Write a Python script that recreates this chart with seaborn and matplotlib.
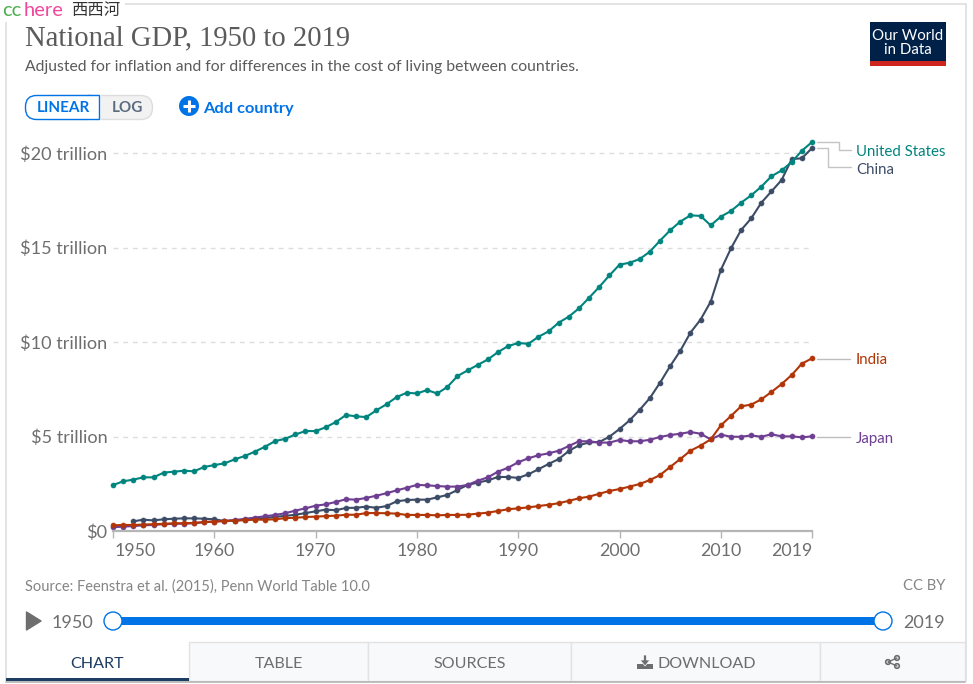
import numpy as np
import pandas as pd
import matplotlib
matplotlib.use('Agg')
import matplotlib.pyplot as plt
import matplotlib.transforms as mtrans
import seaborn as sns
from matplotlib.patches import Rectangle, FancyBboxPatch, Circle, Polygon

nan = np.nan
years = list(range(1950, 2020))

# GDP in trillions
united_states = [2.43, 2.63, 2.72, 2.84, 2.84, 3.09, 3.14, 3.19, 3.16, 3.39,
                 3.49, 3.58, 3.79, 3.97, 4.20, 4.46, 4.76, 4.88, 5.11, 5.29,
                 5.29, 5.49, 5.77, 6.14, 6.07, 6.03, 6.39, 6.71, 7.09, 7.32,
                 7.28, 7.46, 7.28, 7.62, 8.20, 8.50, 8.79, 9.08, 9.47, 9.79,
                 9.95, 9.91, 10.28, 10.57, 11.03, 11.35, 11.79, 12.35, 12.92, 13.53,
                 14.10, 14.20, 14.40, 14.79, 15.37, 15.92, 16.38, 16.71, 16.68, 16.18,
                 16.64, 16.94, 17.38, 17.77, 18.23, 18.78, 19.09, 19.53, 20.13, 20.59]
china = [nan, nan, 0.51, 0.60, 0.56, 0.62, 0.65, 0.67, 0.67, 0.65,
         0.62, 0.53, 0.55, 0.60, 0.65, 0.68, 0.75, 0.80, 0.86, 0.95,
         1.04, 1.13, 1.10, 1.22, 1.23, 1.29, 1.23, 1.32, 1.57, 1.64,
         1.66, 1.66, 1.78, 1.91, 2.17, 2.44, 2.56, 2.68, 2.86, 2.86,
         2.81, 3.00, 3.27, 3.55, 3.81, 4.24, 4.54, 4.69, 4.71, 4.99,
         5.40, 5.86, 6.42, 7.04, 7.85, 8.73, 9.54, 10.50, 11.19, 12.14,
         13.82, 14.96, 15.93, 16.55, 17.38, 17.98, 18.58, 19.69, 19.73, 20.27]
japan = [0.20, 0.23, 0.26, 0.30, 0.32, 0.36, 0.38, 0.39, 0.41, 0.47,
         0.50, 0.53, 0.58, 0.64, 0.71, 0.78, 0.85, 0.94, 1.08, 1.20,
         1.34, 1.41, 1.54, 1.68, 1.66, 1.75, 1.87, 2.00, 2.15, 2.29,
         2.44, 2.42, 2.38, 2.35, 2.35, 2.44, 2.66, 2.84, 3.14, 3.35,
         3.64, 3.85, 4.01, 4.11, 4.25, 4.50, 4.75, 4.75, 4.68, 4.68,
         4.82, 4.75, 4.75, 4.83, 4.98, 5.08, 5.15, 5.24, 5.15, 4.85,
         5.10, 4.99, 4.99, 5.06, 4.99, 5.12, 5.01, 5.01, 4.96, 5.01]
india = [0.30, 0.32, 0.32, 0.34, 0.36, 0.38, 0.41, 0.41, 0.43, 0.47,
         0.50, 0.53, 0.55, 0.57, 0.60, 0.60, 0.62, 0.68, 0.70, 0.74,
         0.76, 0.79, 0.81, 0.86, 0.86, 0.95, 0.95, 0.94, 0.92, 0.85,
         0.85, 0.85, 0.83, 0.85, 0.85, 0.86, 0.92, 0.97, 1.06, 1.15,
         1.20, 1.25, 1.32, 1.39, 1.47, 1.60, 1.73, 1.82, 1.97, 2.12,
         2.22, 2.35, 2.49, 2.70, 2.96, 3.39, 3.81, 4.25, 4.52, 4.85,
         5.59, 6.09, 6.60, 6.69, 6.97, 7.36, 7.78, 8.26, 8.86, 9.14]

countries = ['China', 'United States', 'Japan', 'India']
colors = {'China': '#3d4c66', 'United States': '#00847e', 'Japan': '#6d3e91', 'India': '#b13507'}
x_ticks = [1950, 1960, 1970, 1980, 1990, 2000, 2010, 2019]
y_ticks = [0, 5, 10, 15, 20]
y_labels = ['$0', '$5 trillion', '$10 trillion', '$15 trillion', '$20 trillion']
tabs = ['CHART', 'TABLE', 'SOURCES', 'DOWNLOAD']

df = pd.DataFrame({'Year': years, 'United States': united_states, 'China': china,
                   'Japan': japan, 'India': india})
df = df.melt(id_vars='Year', var_name='Country', value_name='GDP').dropna()

sns.set_theme(style='white')
plt.rcParams['font.family'] = ['Lato', 'Noto Sans CJK SC', 'DejaVu Sans']
plt.rcParams['text.parse_math'] = False

W, H = 973, 684
BLUE = '#0073e6'
GREY = '#6e6e6e'
fig = plt.figure(figsize=(W / 100, H / 100), dpi=100, facecolor='white')

# page furniture is laid out in pixels on a full-size axes
ui = fig.add_axes([0, 0, 1, 1])
ui.set_xlim(0, W)
ui.set_ylim(H, 0)
ui.axis('off')

ui.add_patch(Rectangle((5.5, 3.5), 960, 677.5, fc='white', ec='#dedede', lw=1.2))
ui.plot([6, 965], [681.5, 681.5], color='#b4b4b4', lw=1.2)
ui.add_patch(Rectangle((0, 0), 125, 22, fc='white', ec='none', zorder=3))
ui.text(2, 11, 'cc', color='#4caf50', fontsize=14.5, va='center', zorder=4)
ui.text(24, 11, 'here', color='#f0489c', fontsize=14.5, va='center', zorder=4)
ui.text(71, 11, '西西河', color='#333333', fontsize=11.8, va='center', zorder=4)

ui.text(25, 38.5, 'National GDP, 1950 to 2019', family='Liberation Serif', fontsize=20.6,
        color='#5b5b5b', va='center')
ui.text(25, 66.5, 'Adjusted for inflation and for differences in the cost of living between countries.',
        fontsize=11.3, color='#5b5b5b', va='center')

# logo
ui.add_patch(Rectangle((870, 22), 76, 44, fc='#002147', ec='none'))
ui.add_patch(Rectangle((870, 61), 76, 5, fc='#ce261e', ec='none'))
ui.text(908, 43, 'Our World\nin Data', color='white', fontsize=10.8, ha='center', va='center',
        linespacing=0.95)

# linear / log switch
ui.add_patch(FancyBboxPatch((37, 95.5), 115.5, 24, boxstyle='round,pad=0,rounding_size=12',
                            fc='#f2f2f2', ec='#dddddd', lw=1))
ui.add_patch(Rectangle((25, 95), 75, 25, fc='white', ec='none'))
ui.add_patch(FancyBboxPatch((25.5, 95.5), 74, 24, boxstyle='round,pad=0,rounding_size=11',
                            fc='white', ec=BLUE, lw=1, snap=False))
ui.add_patch(Rectangle((88, 94.5), 13, 26, fc='white', ec='none'))
ui.plot([88, 99.5, 99.5, 88], [95.5, 95.5, 119.5, 119.5], color=BLUE, lw=1, snap=False,
        solid_joinstyle='miter')
ui.text(63, 108.5, 'LINEAR', color=BLUE, fontsize=11, fontweight='bold', ha='center', va='center')
ui.text(127, 108.5, 'LOG', color='#5b6b80', fontsize=11, fontweight='bold', ha='center', va='center')
ui.add_patch(Circle((189, 106), 10, fc=BLUE, ec='none'))
ui.plot([183, 195], [106, 106], color='white', lw=2.2, solid_capstyle='butt')
ui.plot([189, 189], [100, 112], color='white', lw=2.2, solid_capstyle='butt')
ui.text(203, 108.5, 'Add country', color=BLUE, fontsize=11.8, fontweight='bold', va='center')

# footer
ui.text(25, 586.5, 'Source: Feenstra et al. (2015), Penn World Table 10.0', fontsize=10.5,
        color='#858585', va='center')
ui.text(945, 586.5, 'CC BY', fontsize=10.6, color='#858585', ha='right', va='center')

ui.add_patch(Polygon([[26.5, 612], [41, 621], [26.5, 630]], closed=True, fc=GREY, ec=GREY,
                     lw=1, joinstyle='round'))
ui.text(52, 622.5, '1950', fontsize=13, color=GREY, va='center')
ui.text(903, 622.5, '2019', fontsize=13, color=GREY, va='center')
ui.add_patch(Rectangle((113, 617), 770, 8, fc=BLUE, ec='none'))
for cx in (113, 883):
    ui.add_patch(Circle((cx, 621), 9, fc='white', ec=BLUE, lw=1, zorder=3))

# tabs
edges = [6, 189, 368, 571, 820, 965]
for left, right in zip(edges[1:-1], edges[2:]):
    ui.add_patch(Rectangle((left, 642), right - left, 39, fc='#f8f9fb', ec='#e2e2e2', lw=1))
ui.add_patch(Rectangle((6, 678), 183, 3, fc='#1d3d63', ec='none'))
ui.text(97.5, 663.5, tabs[0], fontsize=11.6, color='#1d3d63', ha='center', va='center')
ui.text(279, 663.5, tabs[1], fontsize=11.6, color=GREY, ha='center', va='center')
ui.text(470, 663.5, tabs[2], fontsize=11.6, color=GREY, ha='center', va='center')
ui.text(706.5, 663.5, tabs[3], fontsize=11.6, color=GREY, ha='center', va='center')

# download icon
ui.add_patch(Rectangle((637, 664), 16, 5, fc=GREY, ec='none'))
ui.add_patch(Polygon([[643.5, 655], [646.5, 655], [646.5, 660], [650, 660], [645, 666], [640, 660], [643.5, 660]],
                     closed=True, fc=GREY, ec='white', lw=0.5))

# share icon
share = [(888, 662), (897, 658), (897, 666)]
ui.plot([share[1][0], share[0][0], share[2][0]], [share[1][1], share[0][1], share[2][1]], color=GREY, lw=1)
for p in share:
    ui.add_patch(Circle(p, 2.3, fc='none', ec=GREY, lw=1.2, zorder=3))

# leader lines and series labels
ui.plot([817, 839, 839, 851], [142, 142, 149.5, 149.5], color='#c4c4c4', lw=1)
ui.plot([817, 828, 828, 851], [148, 148, 167, 167], color='#c4c4c4', lw=1)
ui.plot([817, 850], [358.5, 358.5], color='#bdbdbd', lw=1)
ui.plot([817, 850], [436.5, 436.5], color='#bdbdbd', lw=1)
for name, ypx in [('United States', 151.5), ('China', 169.5), ('India', 360), ('Japan', 438.5)]:
    ui.text(856, ypx, name, color=colors[name], fontsize=10.8, va='center')

# the chart itself
ax = fig.add_axes([113 / W, (H - 531) / H, (812 - 113) / W, (531 - 130) / H])
ax.patch.set_alpha(0)
sns.lineplot(data=df, x='Year', y='GDP', hue='Country', hue_order=countries, palette=colors,
             marker='o', markersize=3.8, markeredgewidth=0.6, linewidth=1.5,
             errorbar=None, legend=False, ax=ax, clip_on=False)
for line in ax.get_lines():
    line.set_markeredgecolor((*matplotlib.colors.to_rgb(line.get_color()), 0.35))

ax.set_xlim(1950, 2019)
ax.set_ylim(0, (531 - 130) / 18.89)
ax.set_xlabel('')
ax.set_ylabel('')
sns.despine(ax=ax, left=True, top=True, right=True)
ax.spines['bottom'].set_color('#b5b5b5')
ax.spines['bottom'].set_linewidth(1.6)

ax.set_yticks(y_ticks)
ax.set_yticklabels(y_labels, fontsize=13.1, color=GREY)
ax.tick_params(axis='y', length=0, pad=4)
ax.set_xticks(x_ticks)
ax.set_xticklabels(x_ticks, fontsize=12.8, color=GREY)
ax.tick_params(axis='x', length=5, width=1, color='#b5b5b5', pad=4, bottom=True)
tick_labels = ax.get_xticklabels()
tick_labels[0].set_ha('left')
tick_labels[0].set_transform(tick_labels[0].get_transform() +
                             mtrans.ScaledTranslation(2 / 100, 0, fig.dpi_scale_trans))
tick_labels[-1].set_ha('right')
ax.set_axisbelow(True)
ax.yaxis.grid(True, color='#dddddd', linestyle=(0, (3.5, 3.5)), linewidth=1)
ax.xaxis.grid(False)
for gl, val in zip(ax.get_ygridlines(), y_ticks):
    gl.set_visible(val != 0)

fig.savefig('out.png', dpi=100)
